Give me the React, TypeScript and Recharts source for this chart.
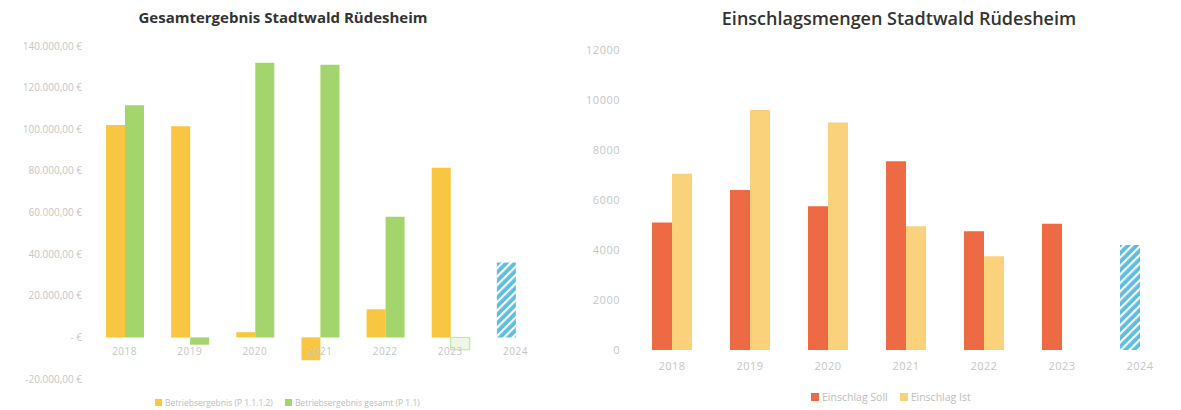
import React from "react";
import { BarChart, Bar, XAxis, YAxis, Cell } from "recharts";

// Jahre (beide Diagramme)
const years = ["2018", "2019", "2020", "2021", "2022", "2023", "2024"];

// Gesamtergebnis Stadtwald (EUR)
const ergebnisA = [102000, 101500, 2500, -11000, 13500, 81500, 36000];
const ergebnisB = [111500, -3500, 132000, 131000, 58000, -6000, null];
const ergebnisTicks = [-20000, 0, 20000, 40000, 60000, 80000, 100000, 120000, 140000];

// Einschlagsmengen (Fm)
const einschlagSoll = [5100, 6400, 5750, 7550, 4750, 5050, 4200];
const einschlagIst = [7050, 9600, 9100, 4950, 3750, null, null];
const einschlagTicks = [0, 2000, 4000, 6000, 8000, 10000, 12000];

const FORECAST_YEAR = "2024";
const FONT = "'Open Sans', 'Noto Sans', sans-serif";
const TICK_GREY = "#c6c6c6";

const leftData = years.map((year, i) => ({ year, a: ergebnisA[i], b: ergebnisB[i] }));
const rightData = years.map((year, i) => ({ year, soll: einschlagSoll[i], ist: einschlagIst[i] }));

const euro = (v: number) => {
  if (v === 0) return "-   €";
  const s = Math.abs(v).toLocaleString("de-DE", { minimumFractionDigits: 2, maximumFractionDigits: 2 });
  return (v < 0 ? "-" : "") + s + " €";
};

// left chart geometry
const L_W = 570;
const L_H = 410;
const L_TOP = 46;
const L_BOTTOM = 30;
const L_XAXIS_H = 1;
const L_PLOT_H = L_H - L_TOP - L_BOTTOM - L_XAXIS_H;
const L_MIN = -20000;
const L_MAX = 140000;
const L_ZERO_Y = L_TOP + (L_PLOT_H * L_MAX) / (L_MAX - L_MIN);

const Hatch = ({ id }: { id: string }) => (
  <defs>
    <pattern id={id} patternUnits="userSpaceOnUse" width="6" height="6" patternTransform="rotate(45)">
      <rect width="6" height="6" fill="#5bbde0" />
      <rect width="2.2" height="6" fill="#ffffff" />
    </pattern>
  </defs>
);

const ZeroTick = (props: any) => {
  const { x, payload } = props;
  return (
    <text x={x} y={L_ZERO_Y + 18} textAnchor="middle" fontSize={10} fill={TICK_GREY} fontFamily={FONT} letterSpacing={0.5}>
      {payload.value}
    </text>
  );
};

const LegendItem = ({ color, label, size }: { color: string; label: string; size: number }) => (
  <span style={{ display: "inline-flex", alignItems: "center", marginRight: 12 }}>
    <span style={{ width: size, height: size, background: color, display: "inline-block", marginRight: 3 }} />
    {label}
  </span>
);

export default function App() {
  return (
    <div style={{ position: "absolute", left: 0, top: 0, width: 1181, height: 410, background: "#fff", fontFamily: FONT }}>
      <div style={{ position: "absolute", left: 0, width: 566, top: 7, textAlign: "center", fontSize: 15, fontWeight: 700, color: "#333" }}>
        Gesamtergebnis Stadtwald Rüdesheim
      </div>
      <div style={{ position: "absolute", left: 600, width: 598, top: 6, textAlign: "center", fontSize: 18, fontWeight: 600, color: "#333" }}>
        Einschlagsmengen Stadtwald Rüdesheim
      </div>

      <div style={{ position: "absolute", left: 0, top: 0 }}>
        <BarChart width={L_W} height={L_H} data={leftData} margin={{ top: L_TOP, right: 22, bottom: L_BOTTOM, left: 0 }} barGap={0} barSize={19}>
          <Hatch id="hatchL" />
          <XAxis dataKey="year" height={L_XAXIS_H} axisLine={false} tickLine={false} tick={<ZeroTick />} interval={0} />
          <YAxis
            width={92}
            domain={[L_MIN, L_MAX]}
            ticks={ergebnisTicks}
            tickFormatter={euro}
            axisLine={false}
            tickLine={false}
            tickMargin={4}
            tick={{ fontSize: 10, fill: TICK_GREY, fontFamily: FONT }}
          />
          <Bar dataKey="a" fill="#f9c642" isAnimationActive={false}>
            {leftData.map((d) => (
              <Cell key={d.year} fill={d.year === FORECAST_YEAR ? "url(#hatchL)" : "#f9c642"} />
            ))}
          </Bar>
          <Bar dataKey="b" fill="#a3d56c" isAnimationActive={false}>
            {leftData.map((d) => (
              <Cell
                key={d.year}
                fill={d.year === "2023" ? "#eef7e4" : "#a3d56c"}
                stroke={d.year === "2023" ? "#bfe09c" : undefined}
              />
            ))}
          </Bar>
        </BarChart>
      </div>

      <div style={{ position: "absolute", left: 570, top: 0 }}>
        <BarChart width={611} height={410} data={rightData} margin={{ top: 50, right: 2, bottom: 30, left: 0 }} barGap={0} barSize={20}>
          <Hatch id="hatchR" />
          <XAxis
            dataKey="year"
            height={30}
            axisLine={false}
            tickLine={false}
            tickMargin={6}
            interval={0}
            tick={{ fontSize: 11, fill: TICK_GREY, fontFamily: FONT, letterSpacing: 0.5 }}
          />
          <YAxis
            width={63}
            domain={[0, 12000]}
            ticks={einschlagTicks}
            axisLine={false}
            tickLine={false}
            tickMargin={7}
            tick={{ fontSize: 11, fill: TICK_GREY, fontFamily: FONT, letterSpacing: 0.5 }}
          />
          <Bar dataKey="soll" fill="#ee6a45" isAnimationActive={false}>
            {rightData.map((d) => (
              <Cell key={d.year} fill={d.year === FORECAST_YEAR ? "url(#hatchR)" : "#ee6a45"} />
            ))}
          </Bar>
          <Bar dataKey="ist" fill="#fbd27c" isAnimationActive={false} />
        </BarChart>
      </div>

      <div style={{ position: "absolute", left: 155, top: 397, fontSize: 8.5, color: "#bdbdbd", whiteSpace: "nowrap" }}>
        <LegendItem color="#f9c642" label="Betriebsergebnis (P 1.1.1.2)" size={7} />
        <LegendItem color="#a3d56c" label="Betriebsergebnis gesamt (P 1.1)" size={7} />
      </div>
      <div style={{ position: "absolute", left: 811, top: 390, fontSize: 10.5, color: "#bdbdbd", whiteSpace: "nowrap" }}>
        <LegendItem color="#ee6a45" label="Einschlag Soll" size={8} />
        <LegendItem color="#fbd27c" label="Einschlag Ist" size={8} />
      </div>
    </div>
  );
}
